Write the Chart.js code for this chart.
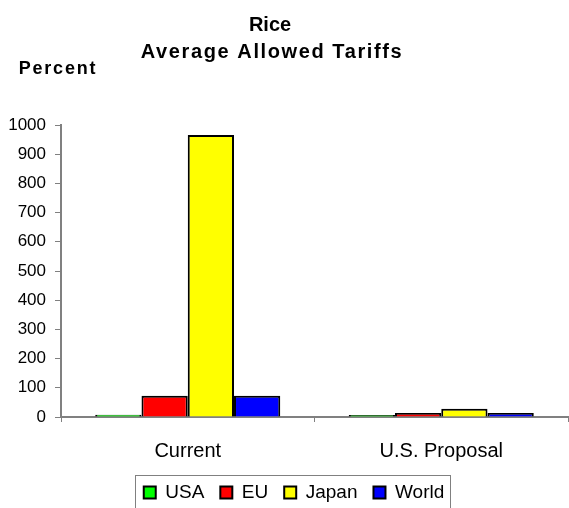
<!DOCTYPE html>
<html>
<head>
<meta charset="utf-8">
<script src="https://cdn.jsdelivr.net/npm/chart.js@4"></script>
<style>
  html, body { margin: 0; padding: 0; background: #fff; }
  #wrap { width: 569px; height: 508px; }
</style>
</head>
<body>
<div id="wrap"><canvas id="bar-chart" width="569" height="508"></canvas></div>
<script>
// categorias y valores
const categorias = ['Current', 'U.S. Proposal'];
const paises = ['USA', 'EU', 'Japan', 'World'];
const colores = ['#00ff00', '#ff0000', '#ffff00', '#0000ff'];
const usa = [8, 7];
const eu = [73, 14];
const japan = [966, 28];
const world = [73, 14];
const ticksY = [0, 100, 200, 300, 400, 500, 600, 700, 800, 900, 1000];

const series = [usa, eu, japan, world];
const fuente = 'Liberation Sans, Arial, sans-serif';

// titulos dibujados a mano (el titulo original no esta centrado en el canvas)
const titulos = {
    id: 'titulos',
    afterUpdate(chart) {
        // la leyenda original esta un poco a la derecha y mas abajo
        const leg = chart.legend;
        leg.left += 10;
        leg.right += 10;
        leg.top += 4;
        leg.bottom += 4;
    },
    afterDraw(chart) {
        const ctx = chart.ctx;
        ctx.save();
        ctx.fillStyle = '#000';
        ctx.textAlign = 'center';
        ctx.textBaseline = 'middle';
        ctx.font = 'bold 20px ' + fuente;
        ctx.letterSpacing = '0px';
        ctx.fillText('Rice', 270, 25);
        ctx.letterSpacing = '1.6px';
        ctx.fillText('Average Allowed Tariffs', 272, 52);
        ctx.font = 'bold 18px ' + fuente;
        ctx.letterSpacing = '1.8px';
        ctx.fillText('Percent', 58, 69);
        ctx.letterSpacing = '0px';

        // marco de la leyenda
        const leg = chart.legend;
        const pad = leg.options.labels.padding;
        const ancho = leg.lineWidths[0];
        const x0 = (leg.left + pad + leg.right - ancho) / 2;
        const izq = Math.round(x0 - 9);
        const der = Math.round(x0 + ancho - pad + 6);
        const arriba = Math.round(leg.top + pad - 8);
        ctx.strokeStyle = '#808080';
        ctx.lineWidth = 1;
        ctx.strokeRect(izq + 0.5, arriba + 0.5, der - izq, 60);
        ctx.restore();
    }
};

const ctx = document.getElementById('bar-chart').getContext('2d');
new Chart(ctx, {
    type: 'bar',
    data: {
        labels: categorias,
        datasets: paises.map((p, i) => ({
            label: p,
            data: series[i],
            backgroundColor: colores[i],
            borderColor: '#000',
            borderWidth: 2,
            barPercentage: 1,
            categoryPercentage: 0.73
        }))
    },
    options: {
        responsive: false,
        animation: false,
        layout: { padding: { top: 125, left: 0, right: 1, bottom: 0 } },
        scales: {
            x: {
                grid: { drawOnChartArea: false, color: '#808080', tickLength: 5, offset: true },
                border: { color: '#808080', width: 2 },
                ticks: { color: '#000', font: { family: fuente, size: 20 }, padding: 17 },
                afterFit: (scale) => { scale.height = 46; }
            },
            y: {
                min: 0,
                max: 1000,
                afterBuildTicks: (scale) => { scale.ticks = ticksY.map(v => ({ value: v })); },
                grid: { drawOnChartArea: false, color: '#808080', tickLength: 6 },
                border: { color: '#808080', width: 2 },
                ticks: {
                    color: '#000',
                    font: { family: fuente, size: 17 },
                    padding: 9,
                    callback: (v) => String(v)
                },
                afterFit: (scale) => { scale.width = 61; }
            }
        },
        plugins: {
            legend: {
                position: 'bottom',
                labels: {
                    color: '#000',
                    font: { family: fuente, size: 19 },
                    boxWidth: 12,
                    boxHeight: 12,
                    padding: 16
                }
            },
            tooltip: { enabled: false }
        }
    },
    plugins: [titulos]
});
</script>
</body>
</html>
